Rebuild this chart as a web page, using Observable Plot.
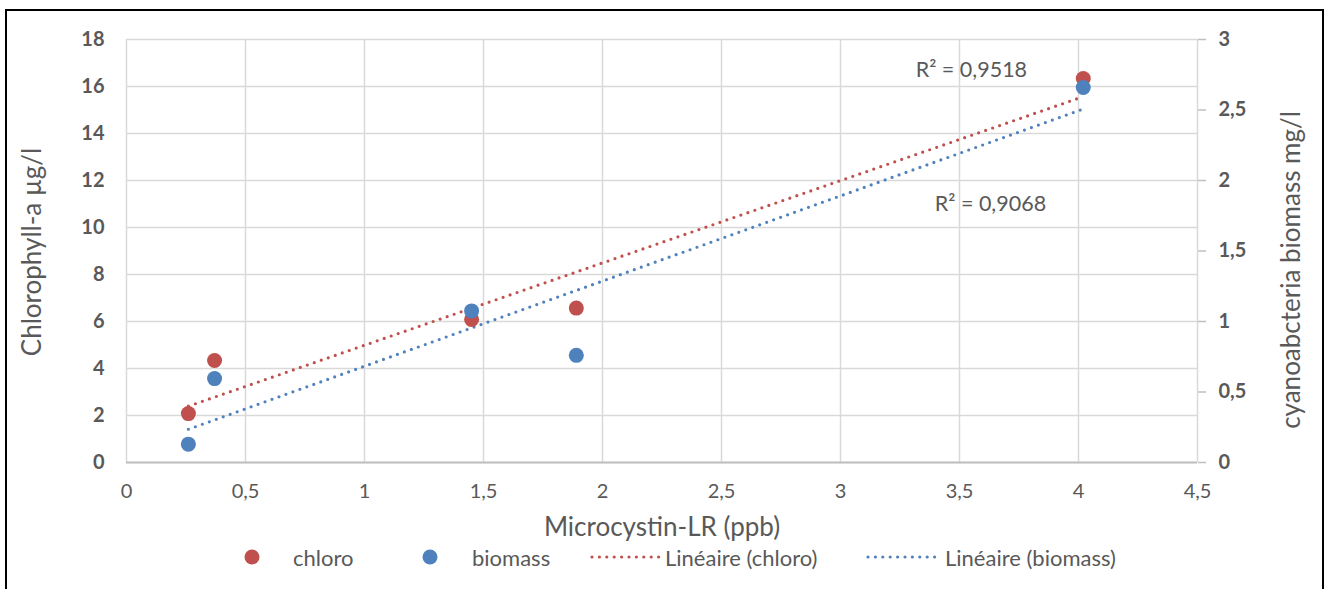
<!DOCTYPE html>
<html>
<head>
<meta charset="utf-8">
<script src="https://cdn.jsdelivr.net/npm/d3@7"></script>
<script src="https://cdn.jsdelivr.net/npm/@observablehq/plot@0.6"></script>
<style>
  html, body { margin: 0; padding: 0; background: #fff; }
  #wrap { position: relative; width: 1328px; height: 589px; overflow: hidden; font-family: Lato, "Open Sans", sans-serif; color: #595959; }
  #frame { position: absolute; left: 5px; top: 9px; width: 1319px; height: 640px; border: 2px solid #000; box-sizing: border-box; pointer-events: none; }
  #chart { position: absolute; left: 0; top: 0; }
  .ytitle { position: absolute; font-size: 26px; white-space: nowrap; transform: translate(-50%, -50%) rotate(-90deg); }
  #xtitle { position: absolute; font-size: 26px; white-space: nowrap; transform: translate(-50%, -50%); }
  .leg { position: absolute; font-size: 22px; white-space: nowrap; transform: translateY(-50%); }
  .legdot { position: absolute; width: 15px; height: 15px; border-radius: 50%; transform: translate(-50%, -50%); }
</style>
</head>
<body>
<div id="wrap">
  <div id="chart"></div>
  <div class="ytitle" style="left:31px; top:252px;">Chlorophyll-a µg/l</div>
  <div class="ytitle" style="left:1290px; top:270px;">cyanoabcteria biomass mg/l</div>
  <div id="xtitle" style="left:662px; top:526px;">Microcystin-LR (ppb)</div>
  <div id="legend"></div>
  <div id="frame"></div>
</div>
<script>
// ---- data ----
const microcystin = [0.26, 0.37, 1.45, 1.89, 4.02];      // x, ppb
const chloro      = [2.08, 4.34, 6.09, 6.57, 16.34];     // µg/l (left axis)
const biomass     = [0.13, 0.595, 1.075, 0.76, 2.66];    // mg/l (right axis)
const xTicks      = [0, 0.5, 1, 1.5, 2, 2.5, 3, 3.5, 4, 4.5];
const leftTicks   = [0, 2, 4, 6, 8, 10, 12, 14, 16, 18];
const rightTicks  = [0, 0.5, 1, 1.5, 2, 2.5, 3];
const seriesNames = ["chloro", "biomass", "Linéaire (chloro)", "Linéaire (biomass)"];
const rSquared    = [
  {series: "chloro",  text: "R² = 0,9518", x: 3.55, y: 16.7},
  {series: "biomass", text: "R² = 0,9068", x: 3.63, y: 11.0}
];

const RED = "#C0504D", BLUE = "#4F81BD", TXT = "#595959";
const leftMax = 18, rightMax = 3, k = leftMax / rightMax; // right axis mapped onto left scale
const fmt = d => String(d).replace(".", ",");

const chloroData  = microcystin.map((x, i) => ({x, y: chloro[i]}));
const biomassData = microcystin.map((x, i) => ({x, y: biomass[i] * k}));

const plot = Plot.plot({
  width: 1328,
  height: 589,
  marginLeft: 126,
  marginRight: 131,
  marginTop: 39,
  marginBottom: 127,
  style: {fontFamily: "Lato, 'Open Sans', sans-serif", color: TXT, background: "transparent"},
  x: {domain: [0, 4.5]},
  y: {domain: [0, leftMax]},
  marks: [
    Plot.gridX(xTicks, {stroke: "#d9d9d9", strokeOpacity: 1, strokeWidth: 1.5}),
    Plot.gridY(leftTicks, {stroke: "#d9d9d9", strokeOpacity: 1, strokeWidth: 1.5}),
    Plot.ruleY([0], {stroke: "#bfbfbf", strokeWidth: 2}),
    Plot.axisX({ticks: xTicks, tickFormat: fmt, tickSize: 0, tickPadding: 21, fontSize: 20, fill: TXT, label: null}),
    Plot.axisY({ticks: leftTicks, tickFormat: fmt, tickSize: 0, tickPadding: 22, fontSize: 20, fontWeight: "bold", fill: TXT, label: null}),
    Plot.axisY({anchor: "right", ticks: rightTicks.map(d => d * k), tickFormat: d => fmt(+(d / k).toFixed(2)), tickSize: 8, tickPadding: 13, stroke: "#bfbfbf", strokeWidth: 1.5, fontSize: 20, fontWeight: "bold", fill: TXT, label: null}),
    Plot.linearRegressionY(chloroData, {x: "x", y: "y", ci: 0, stroke: RED, strokeWidth: 3.2, strokeDasharray: "0 7.4", strokeLinecap: "round"}),
    Plot.linearRegressionY(biomassData, {x: "x", y: "y", ci: 0, stroke: BLUE, strokeWidth: 3.2, strokeDasharray: "0 7.4", strokeLinecap: "round"}),
    Plot.dot(chloroData, {x: "x", y: "y", r: 7.5, fill: RED, stroke: "none"}),
    Plot.dot(biomassData, {x: "x", y: "y", r: 7.5, fill: BLUE, stroke: "none"}),
    Plot.text(rSquared, {x: "x", y: "y", text: "text", fontSize: 21.5, fill: TXT})
  ]
});
document.getElementById("chart").appendChild(plot);

// ---- legend (HTML, below plot area) ----
const legend = document.getElementById("legend");
const legY = 557;
const items = [
  {type: "dot", color: RED, mx: 252, tx: 293, label: seriesNames[0]},
  {type: "dot", color: BLUE, mx: 430, tx: 472, label: seriesNames[1]},
  {type: "line", color: RED, mx: 592, w: 68, tx: 665, label: seriesNames[2]},
  {type: "line", color: BLUE, mx: 868, w: 68, tx: 945, label: seriesNames[3]}
];
for (const it of items) {
  if (it.type === "dot") {
    const d = document.createElement("div");
    d.className = "legdot";
    d.style.left = it.mx + "px"; d.style.top = legY + "px"; d.style.background = it.color;
    legend.appendChild(d);
  } else {
    const svgNS = "http://www.w3.org/2000/svg";
    const s = document.createElementNS(svgNS, "svg");
    s.setAttribute("width", it.w + 4); s.setAttribute("height", 6);
    s.style.position = "absolute"; s.style.left = (it.mx - 2) + "px"; s.style.top = (legY - 3) + "px";
    const l = document.createElementNS(svgNS, "line");
    l.setAttribute("x1", 2); l.setAttribute("x2", it.w + 2); l.setAttribute("y1", 3); l.setAttribute("y2", 3);
    l.setAttribute("stroke", it.color); l.setAttribute("stroke-width", 3.2);
    l.setAttribute("stroke-dasharray", "0 7.4"); l.setAttribute("stroke-linecap", "round");
    s.appendChild(l);
    legend.appendChild(s);
  }
  const t = document.createElement("div");
  t.className = "leg";
  t.style.left = it.tx + "px"; t.style.top = legY + "px";
  t.textContent = it.label;
  legend.appendChild(t);
}
</script>
</body>
</html>
